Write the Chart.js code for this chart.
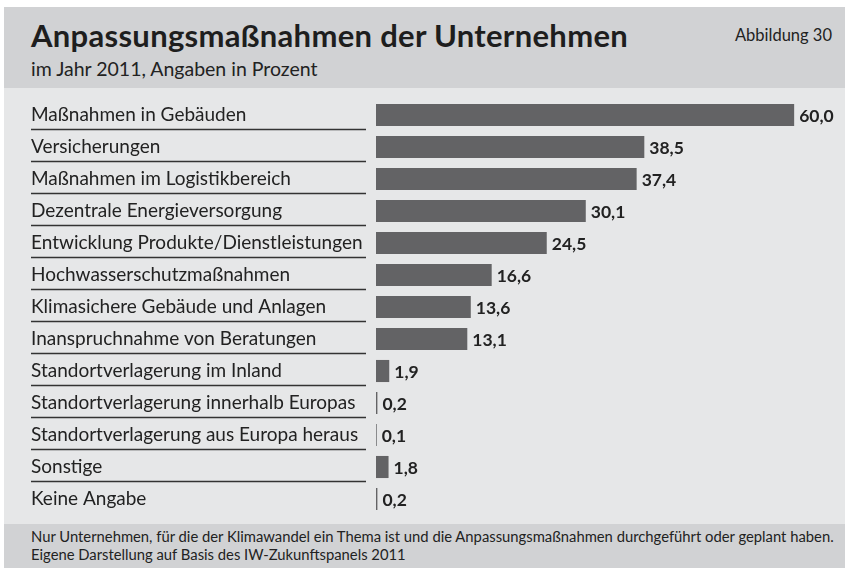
<!DOCTYPE html>
<html>
<head>
<meta charset="utf-8">
<script src="https://cdn.jsdelivr.net/npm/chart.js@4.4.0/dist/chart.umd.min.js"></script>
<style>
  body { margin: 0; background: #fff; font-family: Lato, "Open Sans", sans-serif; color: #222; }
  #wrap { position: absolute; left: 4px; top: 7px; width: 841px; height: 561px; }
  #head { position: absolute; left: 0; top: 0; width: 841px; height: 81px; background: #d1d2d4; }
  #title { position: absolute; left: 27px; top: 9px; font-size: 31px; letter-spacing: 0.3px; font-weight: bold; color: #1e1e1e; }
  #sub { position: absolute; left: 27px; top: 50px; font-size: 19.5px; }
  #fig { position: absolute; right: 13px; top: 18px; font-size: 16.5px; }
  #body { position: absolute; left: 0; top: 81px; width: 841px; height: 436px; background: #e6e7e8; }
  #foot { position: absolute; left: 0; top: 517px; width: 841px; height: 44px; background: #d1d2d4; }
  #foot div { position: absolute; left: 27px; font-size: 14.8px; }
</style>
</head>
<body>
<div id="wrap">
  <div id="head">
    <div id="title">Anpassungsmaßnahmen der Unternehmen</div>
    <div id="sub">im Jahr 2011, Angaben in Prozent</div>
    <div id="fig">Abbildung 30</div>
  </div>
  <div id="body"><canvas id="chart" width="841" height="436"></canvas></div>
  <div id="foot">
    <div style="top:3px">Nur Unternehmen, für die der Klimawandel ein Thema ist und die Anpassungsmaßnahmen durchgeführt oder geplant haben.</div>
    <div style="top:21px">Eigene Darstellung auf Basis des IW-Zukunftspanels 2011</div>
  </div>
</div>
<script>
// categories and values
const categories = [
  'Maßnahmen in Gebäuden',
  'Versicherungen',
  'Maßnahmen im Logistikbereich',
  'Dezentrale Energieversorgung',
  'Entwicklung Produkte/Dienstleistungen',
  'Hochwasserschutzmaßnahmen',
  'Klimasichere Gebäude und Anlagen',
  'Inanspruchnahme von Beratungen',
  'Standortverlagerung im Inland',
  'Standortverlagerung innerhalb Europas',
  'Standortverlagerung aus Europa heraus',
  'Sonstige',
  'Keine Angabe'
];
const values = [60.0, 38.5, 37.4, 30.1, 24.5, 16.6, 13.6, 13.1, 1.9, 0.2, 0.1, 1.8, 0.2];

// draws the row labels with underlines and the value labels
const labelPlugin = {
  id: 'labels',
  afterDraw(chart) {
    const ctx = chart.ctx;
    const yScale = chart.scales.y;
    const meta = chart.getDatasetMeta(0);
    ctx.save();
    categories.forEach((cat, i) => {
      const y = yScale.getPixelForValue(i);
      ctx.fillStyle = '#222';
      ctx.font = '19px Lato';
      ctx.textAlign = 'left';
      ctx.textBaseline = 'middle';
      ctx.fillText(cat, 27, y);
      if (i < categories.length - 1) {
        ctx.strokeStyle = '#333';
        ctx.lineWidth = 1.5;
        ctx.beginPath();
        ctx.moveTo(27, y + 14.5);
        ctx.lineTo(362, y + 14.5);
        ctx.stroke();
      }
      const bar = meta.data[i];
      ctx.font = 'bold 17.5px Lato';
      ctx.fillText(values[i].toFixed(1).replace('.', ','), bar.x + 5, y + 1.5);
    });
    ctx.restore();
  }
};

new Chart(document.getElementById('chart'), {
  type: 'bar',
  data: {
    labels: categories,
    datasets: [{
      data: values,
      backgroundColor: '#636365',
      borderWidth: 0,
      barPercentage: 0.69,
      categoryPercentage: 1
    }]
  },
  options: {
    indexAxis: 'y',
    responsive: false,
    animation: false,
    layout: { padding: { left: 372, right: 16, top: 11, bottom: 9 } },
    plugins: { legend: { display: false }, tooltip: { enabled: false } },
    scales: {
      x: { min: 0, max: 65, display: false },
      y: { display: false }
    }
  },
  plugins: [labelPlugin]
});
</script>
</body>
</html>
